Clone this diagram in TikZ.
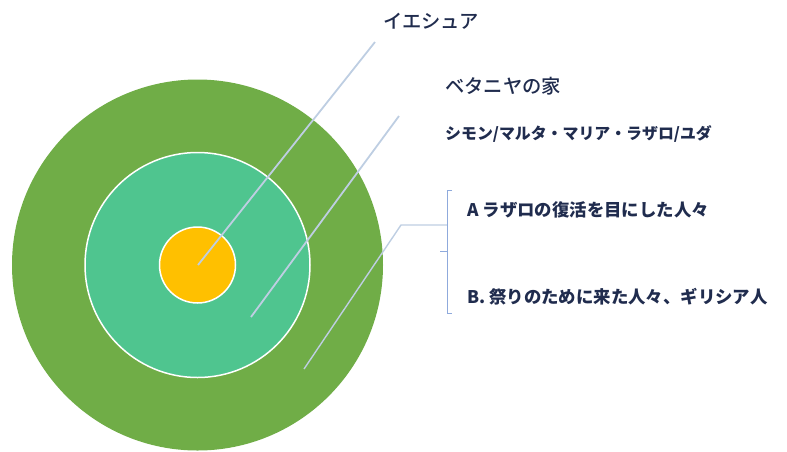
\documentclass[tikz,border=0pt]{standalone}
\usepackage{fontspec}
\newfontfamily\jp{Noto Sans CJK JP}
\newfontfamily\jpm{Noto Sans CJK JP Medium}
\definecolor{outerg}{RGB}{112,173,71}
\definecolor{midg}{RGB}{79,197,143}
\definecolor{innery}{RGB}{255,192,0}
\definecolor{leadc}{RGB}{190,206,226}
\definecolor{bracec}{RGB}{143,170,220}
\definecolor{txtc}{RGB}{32,44,78}
\begin{document}
\begin{tikzpicture}[x=1pt,y=-1pt,
  ring/.style={draw=white,line width=1.5pt},
  leader/.style={draw=leadc,line width=1.8pt},
  brace/.style={draw=bracec,line width=1pt},
  lbl/.style={anchor=west,inner sep=0pt,text=txtc,font=\jp\bfseries\fontsize{17.4}{20}\selectfont},
  big/.style={lbl,font=\jpm\fontsize{19.3}{22}\selectfont}]
\useasboundingbox (0,0) rectangle (787,451);
% circles
\fill[outerg] (197.5,265) circle (185.5);
\path[ring,fill=midg] (197.5,265) circle (112.5);
\path[ring,fill=innery] (197.5,265) circle (38);
% anchor points
\coordinate (c0) at (198,265);
\coordinate (c1) at (251,317);
\coordinate (c2) at (304,369);
\coordinate (e0) at (375,42);
\coordinate (e1) at (399,116);
\coordinate (e2) at (401,225);
\coordinate (b2) at (447,225);
% labels
\node[big] (t0) at (383,21) {イエシュア};
\node[big] (t1) at (445,86) {ベタニヤの家};
\node[lbl,font=\jp\bfseries\fontsize{15.9}{18}\selectfont] (t2) at (445,134) {シモン/マルタ・マリア・ラザロ/ユダ};
\node[lbl] (ta) at (467,210) {A ラザロの復活を目にした人々};
\node[lbl] (tb) at (467,297) {B. 祭りのために来た人々、ギリシア人};
% leaders
\draw[leader] (c0) -- (e0);
\draw[leader] (c1) -- (e1);
\draw[leader,line width=1.4pt] (c2) -- (e2) -- (b2);
% bracket
\coordinate (bt) at (447,190);
\coordinate (bb) at (447,313);
\coordinate (bm) at (447,251);
\draw[brace] ([xshift=5pt]bt) -- (bt) -- (bb) -- ([xshift=5pt]bb);
\draw[brace] (bm) -- ([xshift=-7pt]bm);
\end{tikzpicture}
\end{document}
